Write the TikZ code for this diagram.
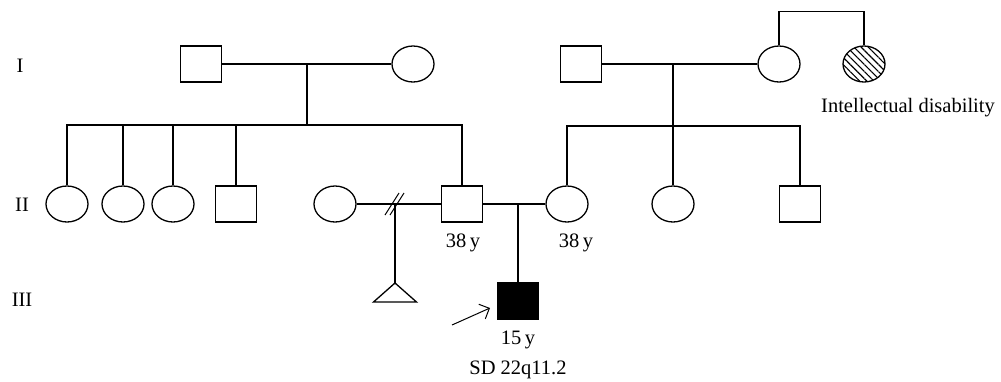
\documentclass[tikz,border=0pt]{standalone}
\usepackage{fontspec}
\setmainfont{Liberation Serif}
\usetikzlibrary{shapes.geometric,patterns.meta,arrows.meta}
\tikzset{male/.style={draw, rectangle, minimum width=41pt, minimum height=36pt, inner sep=0pt},
         female/.style={draw, ellipse, minimum width=42pt, minimum height=36pt, inner sep=0pt}}

\begin{document}
\begin{tikzpicture}[x=1pt, y=-1pt, line width=1.3pt, font=\fontsize{20.5}{24}\selectfont]
    \useasboundingbox (0,0) rectangle (1001,381);
    % Generation labels
    \node (gI) at (20,66) {I};
    \node (gII) at (22,205) {II};
    \node (gIII) at (22,300) {III};
    % Left grandparents
    \node[male] (I1) at (201,64) {};
    \node[female] (I2) at (413,64) {};
    \draw (I1) -- (I2);
    \coordinate (sL) at (307,125);
    \draw (sL |- I1) -- (sL);
    % Left sibship
    \node[female] (II1) at (67,204) {};
    \node[female] (II2) at (123,204) {};
    \node[female] (II3) at (173,204) {};
    \node[male] (II4) at (236,204) {};
    \node[female] (II5) at (335,204) {};
    \node[male] (II6) at (462,204) {};
    \draw (II1) -- (II1 |- sL) -- (II6 |- sL) -- (II6);
    \foreach \c in {II2,II3,II4} \draw (\c) -- (\c |- sL);
    \draw[line width=1.8pt] (392,124.5) -- (447,124.5);
    % Right grandparents
    \node[male] (I3) at (581,64) {};
    \node[female] (I4) at (779,64) {};
    \node[female, pattern={Lines[angle=-45,distance=5pt,line width=1.1pt]}] (I5) at (864,64) {};
    \draw (I3) -- (I4);
    \draw (I4.north) -- ++(0,-34) -| (I5.north);
    \node (idl) at (908,108) {Intellectual disability};
    \coordinate (sR) at (673,126);
    \draw (sR |- I3) -- (sR);
    % Right sibship
    \node[female] (II7) at (567,204) {};
    \node[female] (II8) at (673,204) {};
    \node[male] (II9) at (800,204) {};
    \draw (II7) -- (II7 |- sR) -- (II9 |- sR) -- (II9);
    \draw (II8) -- (II8 |- sR);
    % Divorced union, miscarriage
    \draw (II5) -- (II6);
    \coordinate (dv) at (395,204);
    \draw[line width=1pt] ([shift={(-10,11)}]dv) -- ([shift={(4,-11)}]dv)
        ([shift={(-5,11)}]dv) -- ([shift={(9,-11)}]dv);
    \coordinate (mc) at (395,283);
    \draw (dv) -- (mc);
    \draw (mc) -- ++(-21.5,19) -- ++(43,0) -- cycle;
    % Proband
    \draw (II6) -- (II7);
    \node[male, fill=black] (P) at (518,301) {};
    \draw (P) -- (P |- II6);
    \node (a6) at (463,243) {38\,y};
    \node (a7) at (576,243) {38\,y};
    \node (aP) at (518,340) {15\,y};
    \node (dx) at (518,370) {SD 22q11.2};
    \coordinate (ar) at (452,325);
    \coordinate (ae) at (490,308);
    \draw[-{Straight Barb[length=8pt]}, line width=1pt] (ar) -- (ae);
\end{tikzpicture}
\end{document}
